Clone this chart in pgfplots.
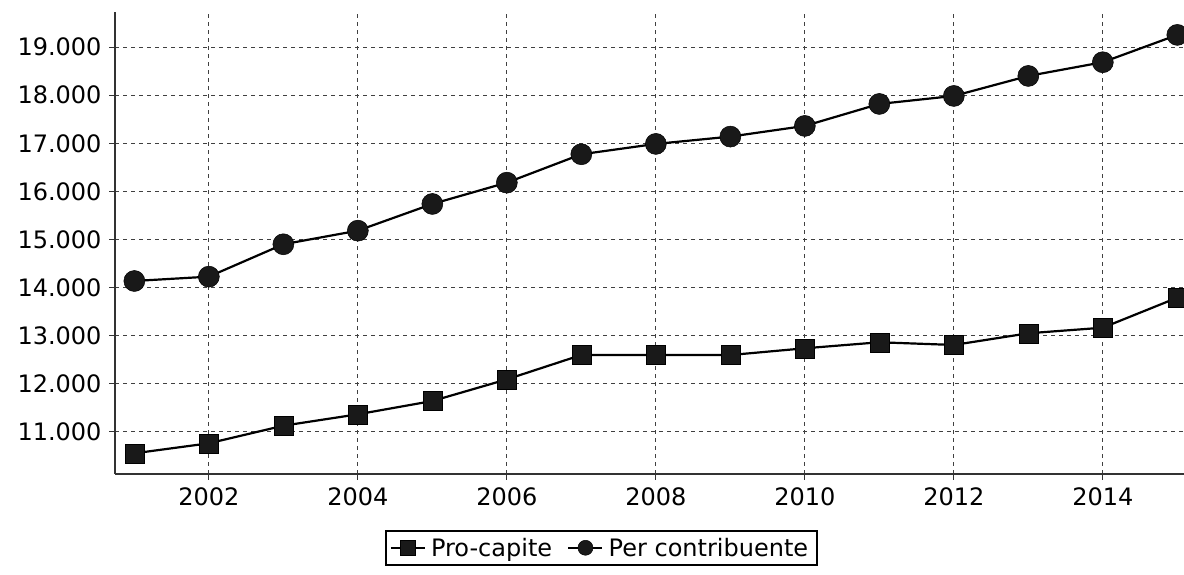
\documentclass[border=0pt]{standalone}
\usepackage{fontspec}
\setmainfont{DejaVu Sans}
\usepackage{pgfplots}
\pgfplotsset{compat=1.18}
\begin{document}
\begin{tikzpicture}
\path[use as bounding box] (0,0) rectangle (1184pt,575pt);
\begin{axis}[
  at={(115pt,101pt)}, anchor=south west,
  width=1069pt, height=462pt, scale only axis,
  xmin=2000.74, xmax=2015.09,
  ymin=10127, ymax=19730,
  axis x line*=bottom, axis y line*=left,
  axis line style={-, line width=1.5pt, black!80},
  xtick={2002,2004,...,2014},
  ytick={11000,12000,...,19000},
  scaled y ticks=false,
  tick align=outside, major tick length=6pt,
  tick style={black!80, line width=1pt},
  /pgf/number format/.cd, 1000 sep={.}, assume math mode=true,
  /pgfplots/.cd,
  xticklabel style={/pgf/number format/1000 sep={}, font=\fontsize{24}{28}\selectfont, yshift=-4pt},
  yticklabel style={font=\fontsize{24}{28}\selectfont, xshift=-4pt},
  grid=major,
  major grid style={black!75, line width=1pt, dash pattern=on 4pt off 4pt},
  legend style={at={(0.455,-0.121)}, anchor=north, legend columns=2,
    font=\fontsize{24}{28}\selectfont, draw=black, line width=2pt,
    inner xsep=4pt, inner ysep=5pt,
    /tikz/every even column/.append style={column sep=10pt},
    nodes={inner xsep=5pt}},
  legend image code/.code={%
    \draw[#1, line width=2.5pt, mark size=7.5pt] plot coordinates {(0pt,0pt) (17pt,0pt) (34pt,0pt)};
    },
  clip=false,
]
\addplot[black, line width=2.2pt, mark=square*, mark size=9.5pt, mark options={solid, fill=black!90, line width=0.5pt}, legend image post style={mark repeat=2, mark phase=2}] coordinates {
(2001,10557) (2002,10765) (2003,11131) (2004,11368) (2005,11644)
(2006,12094) (2007,12601) (2008,12601) (2009,12600) (2010,12740)
(2011,12865) (2012,12809) (2013,13052) (2014,13168) (2015,13792)};
\addlegendentry{Pro-capite}
\addplot[black, line width=2.2pt, mark=*, mark size=10.5pt, mark options={solid, fill=black!90, line width=0.5pt}, legend image post style={mark repeat=2, mark phase=2}] coordinates {
(2001,14139) (2002,14229) (2003,14902) (2004,15185) (2005,15740)
(2006,16183) (2007,16773) (2008,16988) (2009,17140) (2010,17362)
(2011,17819) (2012,17985) (2013,18401) (2014,18686) (2015,19254)};
\addlegendentry{Per contribuente}
\end{axis}
\end{tikzpicture}
\end{document}
